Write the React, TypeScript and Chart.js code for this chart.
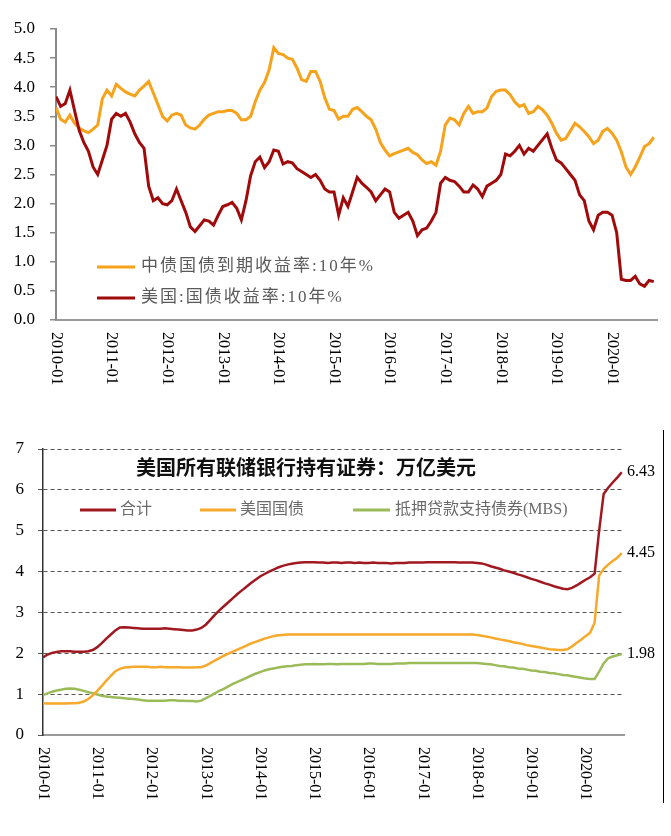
import React, { useEffect, useRef } from "react";
import { Chart, registerables } from "chart.js";
Chart.register(...registerables);

// ---------- DATA ----------
const YEAR_LABELS = ["2010-01", "2011-01", "2012-01", "2013-01", "2014-01", "2015-01", "2016-01", "2017-01", "2018-01", "2019-01", "2020-01"];

// monthly, 2010-01 .. 2020-10
const CN_10Y = [
  3.65, 3.45, 3.40, 3.52, 3.38, 3.30, 3.25, 3.22, 3.28, 3.35,
  3.80, 3.95, 3.85, 4.05, 3.98, 3.92, 3.88, 3.85, 3.95, 4.02,
  4.10, 3.90, 3.70, 3.50, 3.42, 3.52, 3.55, 3.52, 3.35, 3.30,
  3.28, 3.35, 3.45, 3.52, 3.55, 3.58, 3.58, 3.60, 3.60, 3.55,
  3.44, 3.44, 3.50, 3.75, 3.95, 4.08, 4.30, 4.68, 4.58, 4.56,
  4.50, 4.48, 4.33, 4.13, 4.10, 4.27, 4.27, 4.10, 3.82, 3.62,
  3.60, 3.45, 3.50, 3.50, 3.62, 3.65, 3.58, 3.50, 3.44, 3.28,
  3.05, 2.92, 2.82, 2.86, 2.89, 2.92, 2.95, 2.88, 2.84, 2.75,
  2.69, 2.72, 2.66, 2.90, 3.35, 3.47, 3.44, 3.35, 3.55, 3.67,
  3.55, 3.58, 3.58, 3.64, 3.84, 3.93, 3.95, 3.95, 3.87, 3.75,
  3.67, 3.70, 3.55, 3.58, 3.67, 3.61, 3.52, 3.38, 3.21, 3.09,
  3.12, 3.25, 3.38, 3.32, 3.24, 3.15, 3.03, 3.09, 3.24, 3.29,
  3.21, 3.09, 2.89, 2.63, 2.50, 2.63, 2.80, 2.98, 3.03, 3.14,
];
const US_10Y = [
  3.84, 3.67, 3.72, 3.95, 3.60, 3.26, 3.05, 2.90, 2.63, 2.50,
  2.75, 3.00, 3.45, 3.55, 3.50, 3.55, 3.40, 3.20, 3.05, 2.95,
  2.30, 2.05, 2.10, 2.00, 1.98, 2.05, 2.25, 2.05, 1.85, 1.60,
  1.52, 1.62, 1.72, 1.70, 1.63, 1.80, 1.95, 1.98, 2.02, 1.92,
  1.72, 2.05, 2.48, 2.72, 2.80, 2.62, 2.72, 2.92, 2.90, 2.68,
  2.72, 2.70, 2.60, 2.55, 2.50, 2.45, 2.50, 2.40, 2.25, 2.20,
  2.20, 1.80, 2.10, 1.95, 2.20, 2.45, 2.35, 2.28, 2.20, 2.05,
  2.15, 2.25, 2.20, 1.85, 1.75, 1.80, 1.85, 1.70, 1.45, 1.55,
  1.58, 1.70, 1.85, 2.35, 2.45, 2.40, 2.38, 2.30, 2.20, 2.20,
  2.32, 2.25, 2.12, 2.30, 2.35, 2.40, 2.50, 2.85, 2.82, 2.90,
  3.00, 2.85, 2.95, 2.90, 3.00, 3.10, 3.20, 2.95, 2.75, 2.70,
  2.60, 2.50, 2.40, 2.15, 2.05, 1.70, 1.55, 1.80, 1.85, 1.85,
  1.80, 1.50, 0.70, 0.68, 0.68, 0.75, 0.62, 0.58, 0.68, 0.66,
];

// monthly, 2010-01 .. 2020-09, trillion USD
const FED_TOTAL = [
  1.90, 1.97, 2.01, 2.03, 2.05, 2.05, 2.05, 2.04, 2.04, 2.04,
  2.05, 2.08, 2.15, 2.25, 2.36, 2.46, 2.56, 2.63, 2.64, 2.63,
  2.62, 2.61, 2.60, 2.60, 2.60, 2.60, 2.60, 2.61, 2.60, 2.59,
  2.58, 2.57, 2.56, 2.56, 2.58, 2.62, 2.70, 2.82, 2.94, 3.05,
  3.15, 3.25, 3.35, 3.45, 3.54, 3.63, 3.72, 3.80, 3.88, 3.94,
  4.00, 4.05, 4.10, 4.14, 4.17, 4.19, 4.21, 4.22, 4.23, 4.23,
  4.23, 4.22, 4.22, 4.21, 4.22, 4.22, 4.21, 4.22, 4.22, 4.21,
  4.22, 4.21, 4.21, 4.22, 4.21, 4.21, 4.21, 4.20, 4.21, 4.21,
  4.21, 4.22, 4.22, 4.22, 4.22, 4.23, 4.23, 4.23, 4.23, 4.23,
  4.23, 4.23, 4.22, 4.22, 4.22, 4.22, 4.21, 4.20, 4.17, 4.13,
  4.10, 4.07, 4.03, 4.00, 3.97, 3.93, 3.90, 3.86, 3.82, 3.79,
  3.75, 3.71, 3.68, 3.64, 3.61, 3.58, 3.57, 3.60, 3.66, 3.73,
  3.80, 3.86, 3.95, 5.00, 5.90, 6.05, 6.18, 6.30, 6.43,
];
const FED_TREASURY = [
  0.78, 0.77, 0.77, 0.77, 0.77, 0.77, 0.78, 0.78, 0.79, 0.82,
  0.88, 0.97, 1.08, 1.20, 1.33, 1.45, 1.56, 1.62, 1.65, 1.66,
  1.67, 1.67, 1.67, 1.67, 1.66, 1.66, 1.67, 1.66, 1.66, 1.66,
  1.66, 1.65, 1.65, 1.65, 1.66, 1.66, 1.70, 1.76, 1.82, 1.88,
  1.94, 1.99, 2.04, 2.09, 2.14, 2.19, 2.24, 2.28, 2.32, 2.36,
  2.39, 2.42, 2.44, 2.45, 2.46, 2.46, 2.46, 2.46, 2.46, 2.46,
  2.46, 2.46, 2.46, 2.46, 2.46, 2.46, 2.46, 2.46, 2.46, 2.46,
  2.46, 2.46, 2.46, 2.46, 2.46, 2.46, 2.46, 2.46, 2.46, 2.46,
  2.46, 2.46, 2.46, 2.46, 2.46, 2.46, 2.46, 2.46, 2.46, 2.46,
  2.46, 2.46, 2.46, 2.46, 2.46, 2.46, 2.45, 2.43, 2.41, 2.39,
  2.36, 2.34, 2.32, 2.30, 2.27, 2.25, 2.23, 2.20, 2.18, 2.16,
  2.14, 2.12, 2.10, 2.09, 2.08, 2.08, 2.10, 2.17, 2.25, 2.33,
  2.42, 2.50, 2.75, 3.90, 4.07, 4.17, 4.26, 4.34, 4.45,
];
const FED_MBS = [
  0.98, 1.02, 1.06, 1.09, 1.11, 1.13, 1.14, 1.13, 1.11, 1.08,
  1.05, 1.02, 0.99, 0.96, 0.94, 0.93, 0.92, 0.91, 0.90, 0.89,
  0.88, 0.87, 0.85, 0.84, 0.84, 0.84, 0.84, 0.84, 0.85, 0.85,
  0.84, 0.84, 0.83, 0.83, 0.82, 0.84, 0.90, 0.96, 1.02, 1.08,
  1.13, 1.19, 1.25, 1.30, 1.35, 1.40, 1.45, 1.50, 1.54, 1.58,
  1.61, 1.63, 1.65, 1.67, 1.68, 1.69, 1.71, 1.72, 1.73, 1.73,
  1.74, 1.73, 1.73, 1.74, 1.74, 1.73, 1.74, 1.74, 1.74, 1.74,
  1.74, 1.74, 1.75, 1.75, 1.74, 1.74, 1.74, 1.74, 1.75, 1.75,
  1.75, 1.76, 1.76, 1.76, 1.76, 1.76, 1.76, 1.76, 1.76, 1.76,
  1.76, 1.76, 1.76, 1.76, 1.76, 1.76, 1.76, 1.75, 1.74, 1.73,
  1.71, 1.69, 1.68, 1.66, 1.65, 1.63, 1.62, 1.60, 1.58, 1.57,
  1.55, 1.54, 1.52, 1.51, 1.49, 1.47, 1.46, 1.44, 1.42, 1.40,
  1.38, 1.37, 1.37, 1.55, 1.75, 1.88, 1.92, 1.95, 1.98,
];

const TOP_LEGEND = ["中债国债到期收益率:10年%", "美国:国债收益率:10年%"];
const BOTTOM_TITLE = "美国所有联储银行持有证券：万亿美元";
const BOTTOM_LEGEND = ["合计", "美国国债", "抵押贷款支持债券(MBS)"];

const C_ORANGE = "#F7A21B";
const C_RED = "#A00A0A";
const C_RED2 = "#A01820";
const C_ORANGE2 = "#F6A92A";
const C_GREEN = "#9BBB59";

const SERIF = "'Liberation Serif', 'Noto Sans CJK SC', serif";

const toXY = (arr: number[]) => arr.map((v, i) => ({ x: i, y: v }));

function rotatedXLabels(yOffset: number, font: string) {
  return {
    id: "rotXLabels",
    afterDraw(chart: any) {
      const ctx = chart.ctx;
      const xs = chart.scales.x;
      const top = chart.chartArea.bottom + yOffset;
      ctx.save();
      ctx.font = font;
      ctx.fillStyle = "#000";
      ctx.textAlign = "left";
      ctx.textBaseline = "middle";
      YEAR_LABELS.forEach((lab, i) => {
        const px = xs.getPixelForValue(i * 12);
        ctx.save();
        ctx.translate(px, top);
        ctx.rotate(Math.PI / 2);
        ctx.fillText(lab, 0, 0);
        ctx.restore();
      });
      ctx.restore();
    },
  };
}

function TopChart() {
  const ref = useRef<HTMLCanvasElement>(null);
  useEffect(() => {
    const legendPlugin = {
      id: "topLegend",
      afterDraw(chart: any) {
        const ctx = chart.ctx;
        const items = [
          { label: TOP_LEGEND[0], color: C_ORANGE, y: 267 },
          { label: TOP_LEGEND[1], color: C_RED, y: 298 },
        ];
        ctx.save();
        items.forEach((it) => {
          ctx.strokeStyle = it.color;
          ctx.lineWidth = 3;
          ctx.beginPath();
          ctx.moveTo(97, it.y);
          ctx.lineTo(135, it.y);
          ctx.stroke();
          ctx.fillStyle = "#5a5a5a";
          ctx.font = `17px ${SERIF}`;
          try { (ctx as any).letterSpacing = "2px"; } catch (e) {}
          ctx.textAlign = "left";
          ctx.textBaseline = "middle";
          ctx.fillText(it.label, 141, it.y);
          try { (ctx as any).letterSpacing = "0px"; } catch (e) {}
        });
        ctx.restore();
      },
    };
    const chart = new Chart(ref.current!, {
      type: "line",
      data: {
        datasets: [
          { label: TOP_LEGEND[0], data: toXY(CN_10Y), borderColor: C_ORANGE, borderWidth: 3, pointRadius: 0, tension: 0, order: 2 },
          { label: TOP_LEGEND[1], data: toXY(US_10Y), borderColor: C_RED, borderWidth: 3, pointRadius: 0, tension: 0, order: 1 },
        ],
      },
      options: {
        animation: false,
        responsive: false,
        devicePixelRatio: 1,
        layout: { padding: { top: 29, right: 14, left: 0, bottom: 0 } },
        plugins: { legend: { display: false }, tooltip: { enabled: false } },
        scales: {
          x: {
            type: "linear",
            min: 0,
            max: 129.7,
            afterFit: (s: any) => { s.height = 80; },
            ticks: { display: false },
            grid: { display: false },
            border: { display: true, color: "#9a9a9a", width: 2 },
          },
          y: {
            min: 0,
            max: 5,
            afterFit: (s: any) => { s.width = 56; },
            ticks: {
              stepSize: 0.5,
              padding: 15,
              color: "#000",
              font: { family: SERIF, size: 17 },
              callback: (v: any) => Number(v).toFixed(1),
            },
            grid: { drawOnChartArea: false, drawTicks: true, tickLength: 6, color: "#8a8a8a", lineWidth: 1.5 },
            border: { display: true, color: "#8a8a8a", width: 2 },
          },
        },
      } as any,
      plugins: [legendPlugin, rotatedXLabels(12, `16px ${SERIF}`)],
    });
    return () => chart.destroy();
  }, []);
  return <canvas ref={ref} width={671} height={400} style={{ position: "absolute", left: 0, top: 0 }} />;
}

function BottomChart() {
  const ref = useRef<HTMLCanvasElement>(null);
  useEffect(() => {
    const annot = {
      id: "bottomAnnot",
      afterDraw(chart: any) {
        const ctx = chart.ctx;
        const ys = chart.scales.y;
        const area = chart.chartArea;
        ctx.save();
        // title
        ctx.fillStyle = "#111";
        ctx.font = `bold 20px 'Noto Sans CJK SC', sans-serif`;
        ctx.textAlign = "center";
        ctx.textBaseline = "middle";
        ctx.fillText(BOTTOM_TITLE, 306, 67);
        // legend
        const items = [
          { label: BOTTOM_LEGEND[0], color: C_RED2, x0: 80, x1: 116, tx: 120 },
          { label: BOTTOM_LEGEND[1], color: C_ORANGE2, x0: 200, x1: 236, tx: 240 },
          { label: BOTTOM_LEGEND[2], color: C_GREEN, x0: 353, x1: 390, tx: 395 },
        ];
        items.forEach((it) => {
          ctx.strokeStyle = it.color;
          ctx.lineWidth = 3;
          ctx.beginPath();
          ctx.moveTo(it.x0, 110);
          ctx.lineTo(it.x1, 110);
          ctx.stroke();
          ctx.fillStyle = "#6a6a6a";
          ctx.font = `16px ${SERIF}`;
          ctx.textAlign = "left";
          ctx.textBaseline = "middle";
          ctx.fillText(it.label, it.tx, 110);
        });
        // end labels
        const ends = [FED_TOTAL, FED_TREASURY, FED_MBS];
        ctx.fillStyle = "#000";
        ctx.font = `16px ${SERIF}`;
        ctx.textAlign = "left";
        ends.forEach((arr) => {
          const v = arr[arr.length - 1];
          ctx.fillText(v.toFixed(2), area.right + 3, ys.getPixelForValue(v));
        });
        ctx.restore();
      },
    };
    const chart = new Chart(ref.current!, {
      type: "line",
      data: {
        datasets: [
          { label: BOTTOM_LEGEND[0], data: toXY(FED_TOTAL), borderColor: C_RED2, borderWidth: 2.5, pointRadius: 0, tension: 0 },
          { label: BOTTOM_LEGEND[1], data: toXY(FED_TREASURY), borderColor: C_ORANGE2, borderWidth: 2.5, pointRadius: 0, tension: 0 },
          { label: BOTTOM_LEGEND[2], data: toXY(FED_MBS), borderColor: C_GREEN, borderWidth: 2.5, pointRadius: 0, tension: 0 },
        ],
      },
      options: {
        animation: false,
        responsive: false,
        devicePixelRatio: 1,
        layout: { padding: { top: 49, right: 47, left: 0, bottom: 0 } },
        plugins: { legend: { display: false }, tooltip: { enabled: false } },
        scales: {
          x: {
            type: "linear",
            min: 0,
            max: 128.5,
            afterFit: (s: any) => { s.height = 101; },
            ticks: { display: false },
            grid: { display: false },
            border: { display: true, color: "#9a9a9a", width: 2 },
          },
          y: {
            min: 0,
            max: 7,
            afterFit: (s: any) => { s.width = 43; },
            ticks: {
              stepSize: 1,
              padding: 14,
              color: "#000",
              font: { family: SERIF, size: 17 },
            },
            grid: {
              drawOnChartArea: true,
              drawTicks: true,
              tickLength: 5,
              color: (c: any) => (c.tick && c.tick.value === 0 ? "rgba(0,0,0,0)" : "#555"),
              tickColor: "#555",
              lineWidth: 1,
            },
            border: { display: true, color: "#333", width: 1.5, dash: [4, 3] },
          },
        },
      } as any,
      plugins: [annot, rotatedXLabels(12, `16px ${SERIF}`)],
    });
    return () => chart.destroy();
  }, []);
  return <canvas ref={ref} width={671} height={436} style={{ position: "absolute", left: 0, top: 400 }} />;
}

export default function App() {
  return (
    <div style={{ position: "fixed", left: 0, top: 0, width: 671, height: 836, background: "#fff", overflow: "hidden" }}>
      <TopChart />
      <BottomChart />
      <div style={{ position: "absolute", left: 663, top: 430, width: 1, height: 373, background: "#000" }} />
    </div>
  );
}
